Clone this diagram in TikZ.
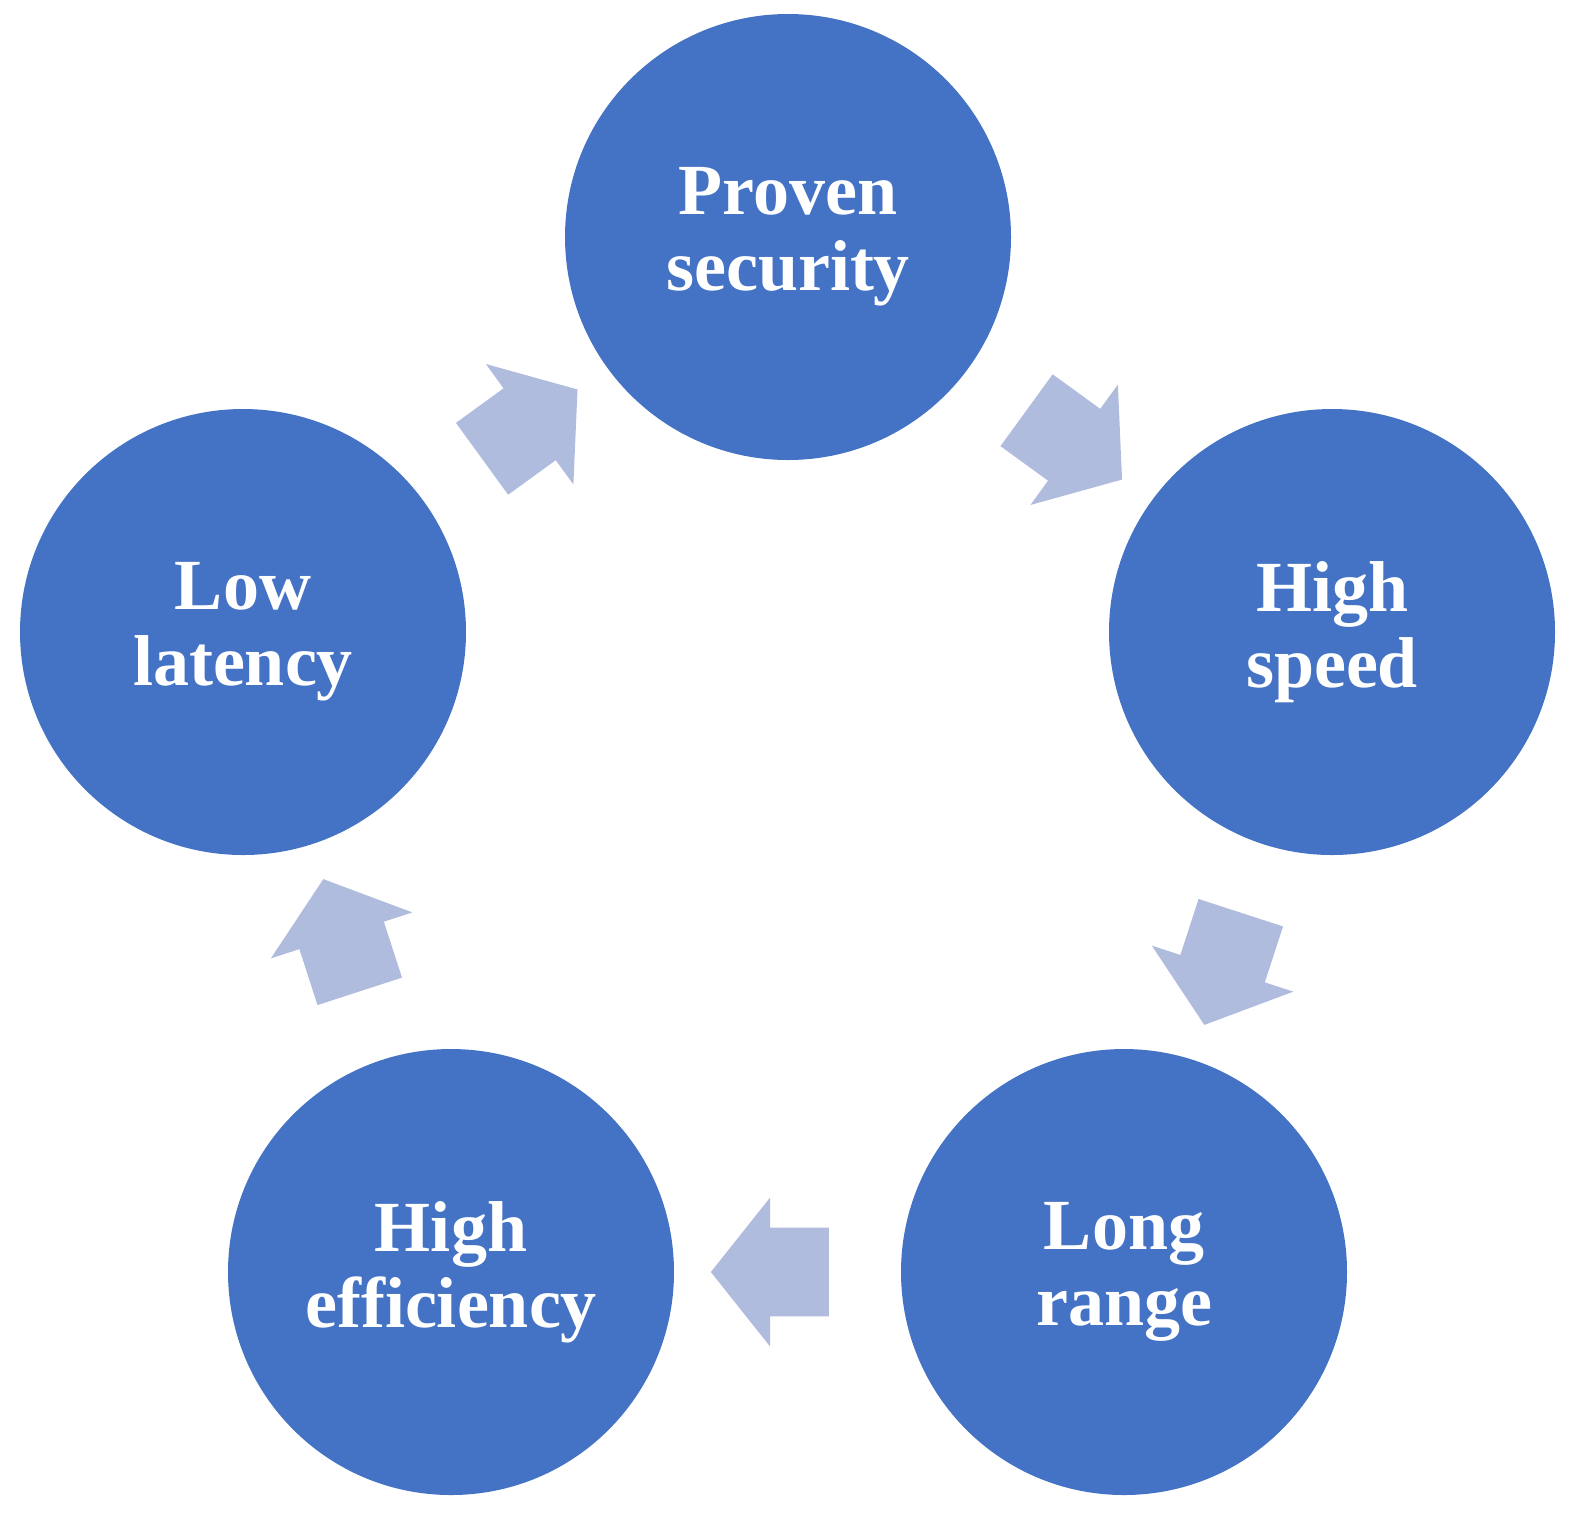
\documentclass[tikz,border=0pt]{standalone}
\usepackage{fontspec}
\setmainfont{Liberation Serif}
\usetikzlibrary{shapes.arrows,calc}
\definecolor{cblue}{HTML}{4472C4}
\definecolor{ablue}{HTML}{B0BCDE}
\begin{document}
\begin{tikzpicture}[x=0.5pt,y=-0.5pt,
  circ/.style={circle,fill=cblue,minimum size=223pt,inner sep=0pt,text=white,align=center,font=\bfseries\fontsize{36}{38}\selectfont},
  arr/.style={single arrow,fill=ablue,minimum height=59pt,inner xsep=4pt,inner ysep=22pt,single arrow head extend=15pt,single arrow head indent=0pt,single arrow tip angle=103,font=\fontsize{1}{1}\selectfont}]
\useasboundingbox (0,0) rectangle (1582,1528);
\node[circ] (ps) at (788,237) {Proven\\security};
\node[circ] (hs) at (1332,632) {High\\speed};
\node[circ] (lr) at (1124,1272) {Long\\range};
\node[circ] (he) at (451,1272) {High\\efficiency};
\node[circ] (ll) at (243,632) {Low\\latency};
\node[arr,rotate=-36] (a1) at ($(ps)!0.5!(hs)$) {};
\node[arr,rotate=-108] (a2) at ($(hs)!0.5!(lr)$) {};
\node[arr,rotate=180] (a3) at ($(lr)!0.5!(he)$) {};
\node[arr,rotate=108] (a4) at ($(he)!0.5!(ll)$) {};
\node[arr,rotate=36] (a5) at ($(ll)!0.5!(ps)$) {};
\end{tikzpicture}
\end{document}
